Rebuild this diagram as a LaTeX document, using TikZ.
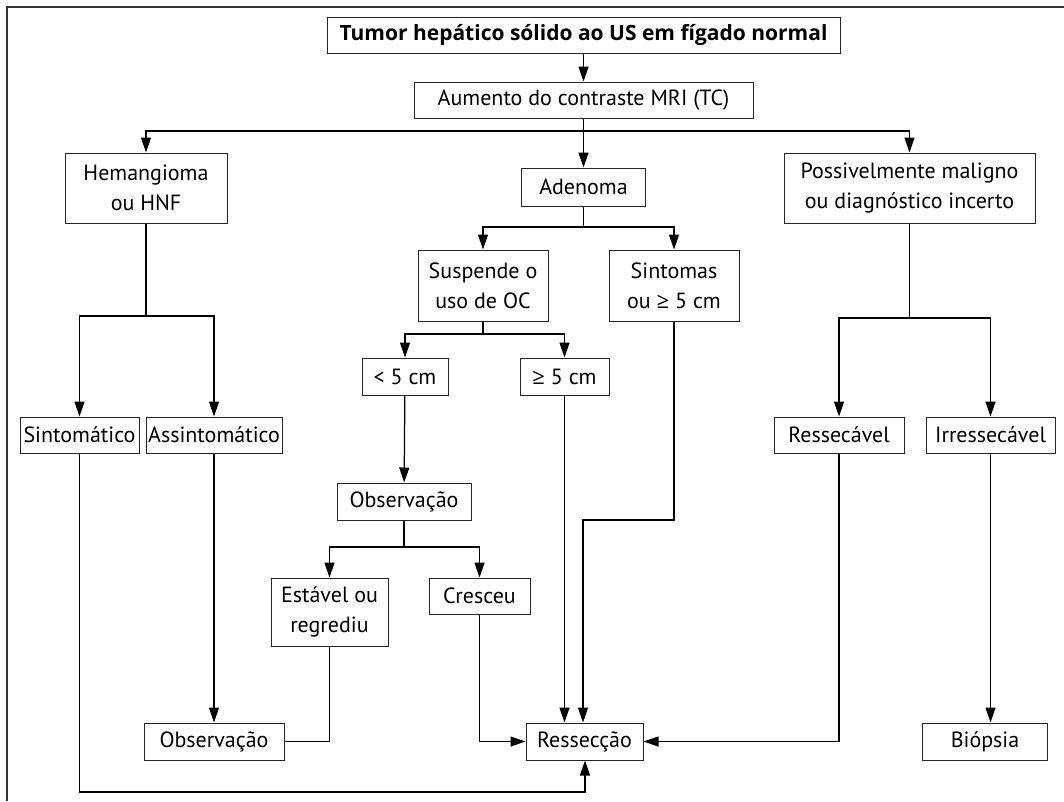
\documentclass[tikz,border=0pt]{standalone}
\usepackage{fontspec}
\setmainfont{PT Sans}
\newfontfamily\opensans{Open Sans}
\newcommand\myge{{\opensans ≥}}
\usetikzlibrary{arrows.meta}
\begin{document}
\begin{tikzpicture}[x=1pt,y=-1pt,
  box/.style={draw=black!85, line width=1pt, inner sep=0pt, align=center, fill=white,
    font=\fontsize{22}{30}\selectfont},
  con/.style={line width=1.25pt},
  arr/.style={con, -{Triangle[length=15pt,width=10pt]}}]
\useasboundingbox (0,0) rectangle (1064,801);
\draw[line width=1.2pt, black!80] (7,801) -- (7,7) -- (1064,7);

\node[box, minimum width=513, minimum height=36, font=\opensans\bfseries\fontsize{21}{30}\selectfont] (tumor) at (583.5,35) {Tumor hepático sólido ao US em fígado normal};
\node[box, minimum width=339, minimum height=36] (aum) at (583.5,100) {Aumento do contraste MRI (TC)};
\node[box, minimum width=162, minimum height=70] (hem) at (146,188) {Hemangioma\\ou HNF};
\node[box, minimum width=124, minimum height=38] (ade) at (583.5,187) {Adenoma};
\node[box, minimum width=251, minimum height=70] (pos) at (909.5,188) {Possivelmente maligno\\ou diagnóstico incerto};
\node[box, minimum width=130, minimum height=71] (sus) at (483,285.5) {Suspende o\\uso de OC};
\node[box, minimum width=130, minimum height=71] (sin) at (674,285.5) {Sintomas\\ou \myge{} 5 cm};
\node[box, minimum width=119, minimum height=36] (sto) at (79.5,435) {Sintomático};
\node[box, minimum width=136, minimum height=36] (ast) at (214,435) {Assintomático};
\node[box, minimum width=130, minimum height=36] (res) at (839,435) {Ressecável};
\node[box, minimum width=129, minimum height=36] (irr) at (990.5,435) {Irressecável};
\node[box, minimum width=86, minimum height=37] (lt5) at (405,376.5) {< 5 cm};
\node[box, minimum width=89, minimum height=37] (ge5) at (564.5,376.5) {\myge{} 5 cm};
\node[box, minimum width=134, minimum height=37] (obs) at (404,501.5) {Observação};
\node[box, minimum width=117, minimum height=68] (est) at (329.5,612) {Estável ou\\regrediu};
\node[box, minimum width=101, minimum height=36] (cre) at (479.5,596) {Cresceu};
\node[box, minimum width=140, minimum height=37] (obs2) at (214,741.5) {Observação};
\node[box, minimum width=117, minimum height=37] (rsc) at (584.5,741.5) {Ressecção};
\node[box, minimum width=125, minimum height=37] (bio) at (985,741.5) {Biópsia};

\coordinate (j1) at (583.5,131);
\coordinate (j2) at (583.5,227);
\coordinate (j3) at (146,316);
\coordinate (j4) at (483,334);
\coordinate (j5) at (404,547);
\coordinate (j6) at (909.5,318);
\coordinate (j7) at (583,520);
\coordinate (j8) at (585,792);

\draw[arr] (tumor) -- (aum);
\draw[con] (aum.south) -- (j1);
\draw[arr] (j1) -- (ade.north);
\draw[arr] (j1) -| (hem.north);
\draw[arr] (j1) -| (pos.north);
\draw[con] (ade.south) -- (j2);
\draw[arr] (j2) -| (sus.north);
\draw[arr] (j2) -| (sin.north);
\draw[con] (hem.south) -- (j3);
\draw[arr] (j3) -| (sto.north);
\draw[arr] (j3) -| (ast.north);
\draw[con] (sus.south) -- (j4);
\draw[arr] (j4) -| (lt5.north);
\draw[arr] (j4) -| (ge5.north);
\draw[arr] (lt5) -- (obs);
\draw[con] (obs.south) -- (j5);
\draw[arr] (j5) -| (est.north);
\draw[arr] (j5) -| (cre.north);
\draw[con] (pos.south) -- (j6);
\draw[arr] (j6) -| (res.north);
\draw[arr] (j6) -| (irr.north);
\draw[arr] (irr.south) -- (irr.south |- bio.north);
\draw[arr] (ast) -- (obs2);
\draw[con] (est.south) |- (obs2.east);
\draw[arr] (cre.south) |- (rsc.west);
\draw[arr] (ge5.south) -- (ge5.south |- rsc.north);
\draw[arr] (sin.south) |- (j7) -- (j7 |- rsc.north);
\draw[arr] (res.south) |- (rsc.east);
\draw[arr] (sto.south) |- (j8) -- (j8 |- rsc.south);
\end{tikzpicture}
\end{document}
